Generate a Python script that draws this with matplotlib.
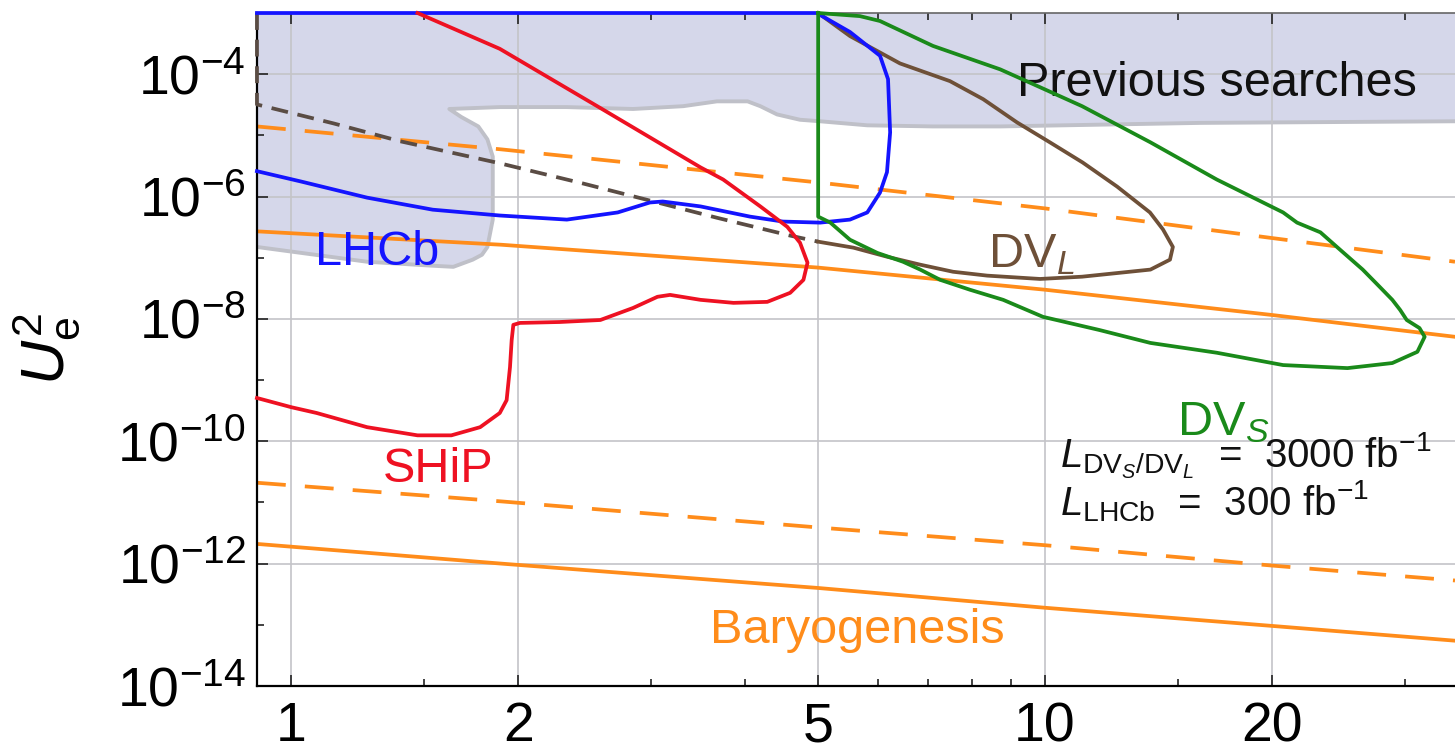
import matplotlib
matplotlib.use('Agg')
import matplotlib.pyplot as plt
from matplotlib.ticker import FixedLocator, FixedFormatter, NullFormatter

plt.rcParams['font.family'] = ['Liberation Sans', 'DejaVu Sans']
plt.rcParams['mathtext.fontset'] = 'custom'
plt.rcParams['mathtext.rm'] = 'Liberation Sans'
plt.rcParams['mathtext.it'] = 'Liberation Sans:italic'
plt.rcParams['mathtext.bf'] = 'Liberation Sans:bold'

# --- data (mass in GeV, U_e^2) ---
top = 1e-3

# lower edge of the "previous searches" excluded region
prev_m = [0.90, 1.03, 1.26, 1.54, 1.64, 1.74, 1.79, 1.82, 1.85, 1.85, 1.82, 1.77, 1.68, 1.62,
          1.89, 2.32, 2.84, 3.31, 3.67, 4.03, 4.19, 4.41, 4.73, 5.03, 5.81, 7.10, 8.72, 16.1, 35.0]
prev_u2 = [1.5e-7, 1.2e-7, 8.6e-8, 7.4e-8, 7.1e-8, 9.3e-8, 1.12e-7, 1.5e-7, 4.2e-7, 4.5e-6, 8.6e-6, 1.4e-5, 2.0e-5, 2.7e-5,
           2.9e-5, 2.9e-5, 2.7e-5, 3.0e-5, 3.6e-5, 3.6e-5, 3.0e-5, 2.2e-5, 1.8e-5, 1.7e-5, 1.46e-5, 1.4e-5, 1.4e-5, 1.6e-5, 1.7e-5]

# SHiP
ship_m = [1.47, 1.89, 2.57, 3.49, 3.74, 4.19, 4.55, 4.73, 4.84, 4.78,
          4.59, 4.28, 3.86, 3.49, 3.18, 3.06, 2.84, 2.57, 2.27, 2.01,
          1.97, 1.96, 1.95, 1.93, 1.89, 1.78, 1.63, 1.47, 1.26, 1.08, 1.00, 0.90]
ship_u2 = [1.0e-3, 2.6e-4, 2.8e-5, 3.0e-6, 1.9e-6, 6.9e-7, 3.2e-7, 1.76e-7, 8.3e-8, 4.35e-8,
           2.67e-8, 1.9e-8, 1.83e-8, 2.05e-8, 2.47e-8, 2.3e-8, 1.51e-8, 9.6e-9, 8.9e-9, 8.6e-9,
           8.0e-9, 4.5e-9, 1.63e-9, 4.7e-10, 2.9e-10, 1.7e-10, 1.25e-10, 1.25e-10, 1.7e-10, 2.9e-10, 3.6e-10, 5.1e-10]

# LHCb
lhcb_m = [0.90, 1.03, 1.26, 1.54, 1.89, 2.32, 2.71, 2.99, 3.11, 3.49,
          4.06, 4.49, 5.03, 5.51, 5.81, 6.04, 6.17, 6.23, 6.19, 6.04, 5.51, 4.98, 0.90]
lhcb_u2 = [2.6e-6, 1.76e-6, 9.6e-7, 6.1e-7, 4.9e-7, 4.2e-7, 5.5e-7, 8.0e-7, 8.3e-7, 6.9e-7,
           4.7e-7, 3.9e-7, 3.75e-7, 4.2e-7, 5.5e-7, 1.16e-6, 2.5e-6, 1.12e-5, 8.3e-5, 2.0e-4, 4.9e-4, 1.0e-3, 1.0e-3]

# DV_L (dashed part below 5 GeV, solid above)
dvl_dash_m = [0.90, 0.90, 1.137, 1.395, 1.89, 2.44, 2.99, 3.67, 4.59, 5.0]
dvl_dash_u2 = [1.0e-3, 3.2e-5, 1.57e-5, 8.0e-6, 3.5e-6, 1.63e-6, 8.6e-7, 4.5e-7, 2.3e-7, 1.83e-7]
dvl_m = [5.0, 5.57, 6.17, 6.83, 7.55, 8.38, 9.85, 11.2, 13.8, 14.65,
         14.78, 14.34, 13.78, 12.46, 11.22, 10.15, 9.18, 8.28, 7.48, 6.42, 5.51, 5.0]
dvl_u2 = [1.83e-7, 1.46e-7, 1.04e-7, 7.7e-8, 5.9e-8, 5.1e-8, 4.5e-8, 4.9e-8, 6.4e-8, 9.3e-8,
          1.5e-7, 2.9e-7, 5.5e-7, 1.46e-6, 3.6e-6, 7.7e-6, 1.63e-5, 3.9e-5, 7.7e-5, 1.5e-4, 4.2e-4, 1.0e-3]

# DV_S
dvs_m = [5.0, 5.0, 5.19, 5.51, 5.99, 6.48, 6.83, 7.26, 7.95, 8.80,
         9.94, 11.8, 13.8, 16.9, 20.7, 25.2, 28.9, 31.2, 31.9, 31.4,
         30.2, 29.6, 28.9, 27.8, 26.4, 24.4, 23.2, 21.6, 20.7, 16.9,
         13.8, 11.2, 9.64, 8.72, 7.10, 6.04, 5.68, 5.0]
dvs_u2 = [1.0e-3, 4.7e-7, 3.75e-7, 1.97e-7, 1.2e-7, 8.6e-8, 6.4e-8, 4.35e-8, 3.0e-8, 2.05e-8,
          1.08e-8, 6.6e-9, 4.05e-9, 2.8e-9, 1.76e-9, 1.57e-9, 1.9e-9, 2.9e-9, 5.1e-9, 7.1e-9,
          9.6e-9, 1.4e-8, 2.05e-8, 3.35e-8, 6.4e-8, 1.5e-7, 2.6e-7, 3.75e-7, 5.5e-7, 1.9e-6,
          7.7e-6, 3.0e-5, 6.9e-5, 1.2e-4, 2.9e-4, 7.4e-4, 8.9e-4, 1.0e-3]

# baryogenesis bands
bau_m = [0.9, 1.9, 5.0, 10.0, 20.0, 35.0]
bau_upper_dashed = [1.4e-5, 5.9e-6, 1.7e-6, 6.4e-7, 2.1e-7, 8.6e-8]
bau_upper_solid = [2.7e-7, 1.63e-7, 6.9e-8, 3.0e-8, 1.16e-8, 5.1e-9]
bau_lower_dashed = [2.1e-11, 1.04e-11, 3.9e-12, 2.0e-12, 9.3e-13, 5.3e-13]
bau_lower_solid = [2.1e-12, 1.0e-12, 4.0e-13, 1.9e-13, 9.6e-14, 5.5e-14]

x_ticks = [1, 2, 5, 10, 20]
x_minor = [1.5, 3, 4, 6, 7, 8, 9, 15, 30]
y_exps = [-14, -12, -10, -8, -6, -4]
y_minor_exps = [-13, -11, -9, -7, -5, -3]

# colours
c_orange = '#ff8c1a'
c_blue = '#1414ff'
c_red = '#ee1122'
c_green = '#1a8a1a'
c_brown = '#6e5038'
c_fill = '#d5d7ea'

fig = plt.figure(figsize=(14.55, 7.48), dpi=100)
ax = fig.add_axes([0.1766, 0.0829, 0.8234, 0.8997])
ax.set_xscale('log')
ax.set_yscale('log')
ax.set_xlim(0.9, 35)
ax.set_ylim(1e-14, top)

# previous searches region
ax.fill(prev_m + [35.0, 0.9], prev_u2 + [top, top], color=c_fill, lw=0, zorder=0.3)
ax.plot(prev_m, prev_u2, color='#bfc0c8', lw=2.8, zorder=0.4, solid_joinstyle='round')

lw = 2.7
ax.plot(bau_m, bau_upper_dashed, color=c_orange, lw=lw, dashes=(7.7, 5.1), zorder=2)
ax.plot(bau_m, bau_upper_solid, color=c_orange, lw=lw, zorder=2)
ax.plot(bau_m, bau_lower_dashed, color=c_orange, lw=lw, dashes=(7.7, 5.1), zorder=2)
ax.plot(bau_m, bau_lower_solid, color=c_orange, lw=lw, zorder=2)

ax.plot(dvl_dash_m, dvl_dash_u2, color='#5a4c44', lw=lw, dashes=(4.5, 2.6), zorder=3, clip_on=False)
ax.plot(dvl_m, dvl_u2, color=c_brown, lw=lw, zorder=3, clip_on=False)
ax.plot(lhcb_m, lhcb_u2, color=c_blue, lw=lw, zorder=4, clip_on=False, solid_joinstyle='round')
ax.plot(ship_m, ship_u2, color=c_red, lw=lw, zorder=4, clip_on=False, solid_joinstyle='round')
ax.plot(dvs_m, dvs_u2, color=c_green, lw=lw, zorder=4, clip_on=False)

# labels
ax.text(9.18, 4.35e-5, 'Previous searches', fontsize=35, color='#111111')
ax.text(1.076, 7.7e-8, 'LHCb', fontsize=35, color=c_blue)
ax.text(1.324, 2.13e-11, 'SHiP', fontsize=35, color=c_red)
ax.text(8.40, 7.1e-8, r'$\mathrm{DV}_{L}$', fontsize=35, color=c_brown)
ax.text(14.96, 1.25e-10, r'$\mathrm{DV}_{S}$', fontsize=35, color=c_green)
ax.text(10.47, 3.75e-11, r'$L_{\mathrm{DV}_{S}/\mathrm{DV}_{L}}$  =  3000 fb$^{-1}$', fontsize=29, color='#111111')
ax.text(10.47, 6.1e-12, r'$L_{\mathrm{LHCb}}$  =  300 fb$^{-1}$', fontsize=29, color='#111111')
ax.text(3.594, 5.1e-14, 'Baryogenesis', fontsize=35, color=c_orange)

# axes styling
ax.xaxis.set_major_locator(FixedLocator(x_ticks))
ax.xaxis.set_major_formatter(FixedFormatter([str(v) for v in x_ticks]))
ax.xaxis.set_minor_locator(FixedLocator(x_minor))
ax.xaxis.set_minor_formatter(NullFormatter())
ax.yaxis.set_major_locator(FixedLocator([10.0 ** e for e in y_exps]))
ax.yaxis.set_major_formatter(FixedFormatter([r'$10^{%d}$' % e for e in y_exps]))
ax.yaxis.set_minor_locator(FixedLocator([10.0 ** e for e in y_minor_exps]))
ax.yaxis.set_minor_formatter(NullFormatter())

ax.tick_params(which='both', direction='in', top=True, right=False, width=1.2, colors='#222222')
ax.tick_params(which='major', length=8)
ax.tick_params(which='minor', length=5)
ax.tick_params(axis='x', which='major', labelsize=40, pad=11, labelcolor='black')
ax.tick_params(axis='y', which='major', labelsize=40, pad=8, labelcolor='black')

ax.grid(which='major', color='#c4c4c8', lw=1.2)
ax.set_axisbelow(True)

ax.spines['left'].set_linewidth(1.6)
ax.spines['bottom'].set_linewidth(1.6)
ax.spines['top'].set_color('#666666')
ax.spines['top'].set_linewidth(1.2)
ax.spines['right'].set_visible(False)

ax.set_ylabel(r'$U_{\mathrm{e}}^{2}$', fontsize=44)
ax.yaxis.set_label_coords(-0.146, 0.5)

fig.savefig('out.png', dpi=100)
